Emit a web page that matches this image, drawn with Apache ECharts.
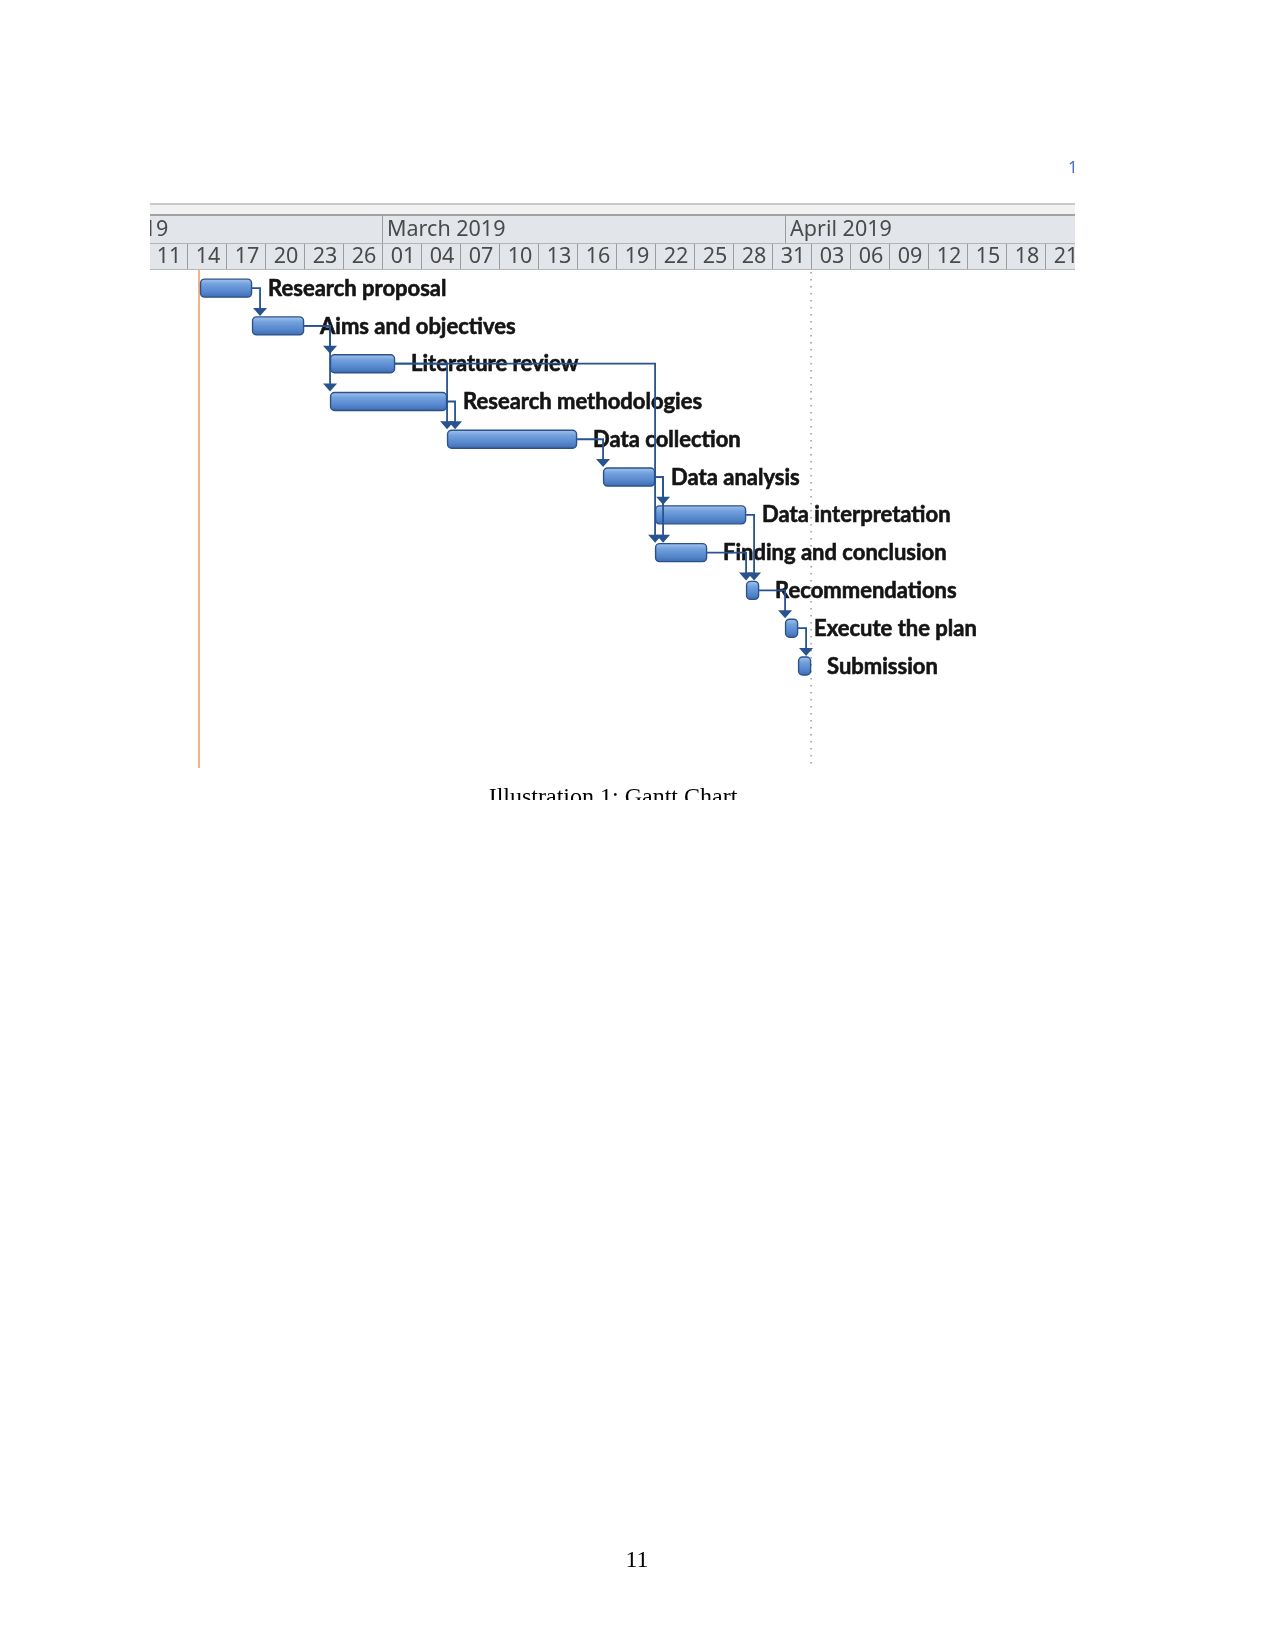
<!DOCTYPE html>
<html><head><meta charset="utf-8">
<script src="https://cdn.jsdelivr.net/npm/echarts@6/dist/echarts.min.js"></script>
<style>html,body{margin:0;padding:0;background:#fff}#c{width:1275px;height:1650px}</style>
</head><body><div id="c"></div>
<script>
// ---- data ----
const taskNames = ['Research proposal','Aims and objectives','Literature review','Research methodologies','Data collection','Data analysis','Data interpretation','Finding and conclusion','Recommendations','Execute the plan','Submission'];
const taskStarts = ['2019-02-15','2019-02-19','2019-02-25','2019-02-25','2019-03-06','2019-03-18','2019-03-22','2019-03-22','2019-03-29','2019-04-01','2019-04-02'];
const taskEnds   = ['2019-02-19','2019-02-23','2019-03-02','2019-03-06','2019-03-16','2019-03-22','2019-03-29','2019-03-26','2019-03-30','2019-04-02','2019-04-03'];
const linkFrom = [0,1,1,2,3,2,4,5,5,6,7,8,9];
const linkTo   = [1,2,3,4,4,7,5,6,7,8,8,9,10];
const dayTickDates = ['2019-02-11','2019-02-14','2019-02-17','2019-02-20','2019-02-23','2019-02-26','2019-03-01','2019-03-04','2019-03-07','2019-03-10','2019-03-13','2019-03-16','2019-03-19','2019-03-22','2019-03-25','2019-03-28','2019-03-31','2019-04-03','2019-04-06','2019-04-09','2019-04-12','2019-04-15','2019-04-18','2019-04-21','2019-04-24'];
const dayTickLabels = ['11','14','17','20','23','26','01','04','07','10','13','16','19','22','25','28','31','03','06','09','12','15','18','21'];
const monthStarts = ['2019-02-01','2019-03-01','2019-04-01','2019-05-01'];
const monthLabels = ['February 2019','March 2019','April 2019'];
const projectStart = '2019-02-15';
const statusDate = '2019-04-03';
const captionText = 'Illustration 1: Gantt Chart';
const pageNumber = '11';

// ---- helpers ----
function dayNum(s){const a=s.split('-').map(Number);return (Date.UTC(a[0],a[1]-1,a[2])-Date.UTC(2019,2,1))/864e5;}
const X_MIN = -17.85, X_MAX = 53.3;

const barData = taskNames.map((n,i)=>[i, dayNum(taskStarts[i]), dayNum(taskEnds[i])]);
const linkData = linkFrom.map((f,k)=>{const t=linkTo[k];return [dayNum(taskEnds[f]), f, dayNum(taskStarts[t]), t];});
const dayCells = dayTickLabels.map((l,i)=>[dayNum(dayTickDates[i]), dayNum(dayTickDates[i+1]), i]);
const monthCells = monthLabels.map((l,i)=>[dayNum(monthStarts[i]), dayNum(monthStarts[i+1]), i]);
const markerData = [[dayNum(projectStart), 0],[dayNum(statusDate), 1]];

const BAR_H = 18;
const LINK_C = '#28538f';
const HEAD_FONT = '21.5px "Noto Sans"';
const barFill = new echarts.graphic.LinearGradient(0,0,0,1,[
  {offset:0,color:'#a9c7ee'},{offset:0.3,color:'#73a1de'},{offset:0.7,color:'#5586cc'},{offset:1,color:'#3c69ad'}]);

function renderHeaderBg(params, api){
  const cs = params.coordSys;
  const x = cs.x, y = cs.y, w = cs.width;
  return {type:'group', children:[
    {type:'rect', shape:{x:x,y:y,width:w,height:11}, style:{fill:'#f2f2f2'}},
    {type:'rect', shape:{x:x,y:y,width:w,height:2}, style:{fill:'#c9c9c9'}},
    {type:'rect', shape:{x:x,y:y+11,width:w,height:2}, style:{fill:'#a2a2a2'}},
    {type:'rect', shape:{x:x,y:y+13,width:w,height:54}, style:{fill:'#e2e5e9'}},
    {type:'line', shape:{x1:x,y1:y+40.5,x2:x+w,y2:y+40.5}, style:{stroke:'#b4b4b4',lineWidth:1}},
    {type:'line', shape:{x1:x,y1:y+66.5,x2:x+w,y2:y+66.5}, style:{stroke:'#b8b8b8',lineWidth:1}}
  ]};
}
function renderDayCell(params, api){
  const cs = params.coordSys;
  const x0 = api.coord([api.value(0),0])[0], x1 = api.coord([api.value(1),0])[0];
  const lbl = dayTickLabels[api.value(2)];
  return {type:'group', children:[
    {type:'line', shape:{x1:Math.round(x0)+0.5,y1:cs.y+41,x2:Math.round(x0)+0.5,y2:cs.y+66}, style:{stroke:'#9c9c9c',lineWidth:1}},
    {type:'text', style:{x:(x0+x1)/2+1.5, y:cs.y+54, text:lbl, fill:'#4a4a4a', font:HEAD_FONT, align:'center', verticalAlign:'middle'}}
  ]};
}
function renderMonthCell(params, api){
  const cs = params.coordSys;
  const x0 = api.coord([api.value(0),0])[0];
  const lbl = monthLabels[api.value(2)];
  return {type:'group', children:[
    {type:'line', shape:{x1:Math.round(x0)+0.5,y1:cs.y+13,x2:Math.round(x0)+0.5,y2:cs.y+40}, style:{stroke:'#9c9c9c',lineWidth:1}},
    {type:'text', style:{x:x0+5, y:cs.y+27, text:lbl, fill:'#4a4a4a', font:HEAD_FONT, align:'left', verticalAlign:'middle'}}
  ]};
}
function renderMarker(params, api){
  const cs = params.coordSys;
  const x = api.coord([api.value(0),0])[0];
  const kind = api.value(1);
  if(kind===0){
    return {type:'line', shape:{x1:x-1,y1:cs.y,x2:x-1,y2:cs.y+cs.height}, style:{stroke:'#f4b183',lineWidth:2}};
  }
  return {type:'line', shape:{x1:x,y1:cs.y+2,x2:x,y2:cs.y+cs.height-4}, style:{stroke:'#a0a0a0',lineWidth:1.6,lineDash:[1.6,5.4]}};
}
function renderBar(params, api){
  const i = api.value(0);
  const p0 = api.coord([api.value(1), i]), p1 = api.coord([api.value(2), i]);
  const w = p1[0]-p0[0];
  return {type:'group', children:[
    {type:'rect', shape:{x:p0[0]+0.5,y:p0[1]-BAR_H/2,width:w-1,height:BAR_H,r:4}, style:{fill:barFill,stroke:'#2b5289',lineWidth:1.4}},
    {type:'text', style:{x:p1[0]+16, y:p0[1]+0.5, text:taskNames[i], fill:'#141414', stroke:'#141414', lineWidth:0.6, font:'bold 22px Lato', align:'left', verticalAlign:'middle'}}
  ]};
}
function renderLink(params, api){
  const pe = api.coord([api.value(0), api.value(1)]);
  const ps = api.coord([api.value(2), api.value(3)]);
  const vx = Math.max(ps[0], pe[0]+8);
  const tipY = ps[1]-BAR_H/2-1;
  const baseY = tipY-8;
  return {type:'group', children:[
    {type:'polyline', shape:{points:[[pe[0],pe[1]],[vx,pe[1]],[vx,baseY+1]]}, style:{stroke:LINK_C,lineWidth:1.8,fill:null}},
    {type:'polygon', shape:{points:[[vx-7,baseY],[vx+7,baseY],[vx,tipY]]}, style:{fill:LINK_C}}
  ]};
}

const chart = echarts.init(document.getElementById('c'), null, {renderer:'canvas'});
chart.setOption({
  animation:false,
  backgroundColor:'#ffffff',
  grid:[
    {left:150, top:203, width:925, height:67},
    {left:150, top:270, width:925, height:498}
  ],
  xAxis:[
    {gridIndex:0, type:'value', min:X_MIN, max:X_MAX, show:false},
    {gridIndex:1, type:'value', min:X_MIN, max:X_MAX, show:false}
  ],
  yAxis:[
    {gridIndex:0, type:'value', min:0, max:1, show:false},
    {gridIndex:1, type:'value', min:-0.48, max:12.7, inverse:true, show:false}
  ],
  series:[
    {type:'custom', xAxisIndex:0, yAxisIndex:0, clip:true, data:[[0,0]], renderItem:renderHeaderBg, silent:true},
    {type:'custom', xAxisIndex:0, yAxisIndex:0, clip:true, data:dayCells, renderItem:renderDayCell, silent:true},
    {type:'custom', xAxisIndex:0, yAxisIndex:0, clip:true, data:monthCells, renderItem:renderMonthCell, silent:true},
    {type:'custom', xAxisIndex:1, yAxisIndex:1, clip:false, data:markerData, renderItem:renderMarker, silent:true, z:1},
    {type:'custom', xAxisIndex:1, yAxisIndex:1, clip:false, data:barData, renderItem:renderBar, silent:true, z:2},
    {type:'custom', xAxisIndex:1, yAxisIndex:1, clip:false, data:linkData, renderItem:renderLink, silent:true, z:3}
  ],
  graphic:[
    {type:'text', left:1068, top:160, style:{text:'1', fill:'#4472c4', font:'17px "Noto Sans"'}},
    {type:'text', x:613, y:797.5, style:{text:captionText, fill:'#000', font:'24px "Liberation Serif"', align:'center', verticalAlign:'middle'}, z:10},
    {type:'rect', shape:{x:0,y:800,width:1275,height:30}, style:{fill:'#ffffff'}, z:11},
    {type:'text', x:637, y:1561, style:{text:pageNumber, fill:'#000', font:'24px "Liberation Serif"', align:'center', verticalAlign:'middle'}, z:10}
  ]
});
</script></body></html>
